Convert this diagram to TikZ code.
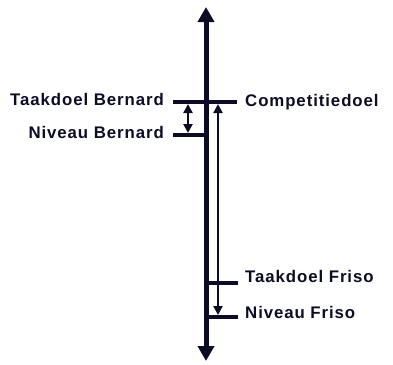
\documentclass[tikz,border=0pt]{standalone}
\usepackage{fontspec}
\setmainfont{Liberation Sans}
\newfontfamily\lblfont{Liberation Sans}[LetterSpace=5.5]
\usepackage{tikz}
\usetikzlibrary{arrows.meta, positioning}
\definecolor{navy}{RGB}{12,12,38}

\begin{document}
\begin{tikzpicture}[x = 1pt, y = -1pt,
    axisline/.style = {line width = 5pt, navy, {Triangle[width = 16pt, length = 15pt]}-{Triangle[width = 16pt, length = 15pt]}},
    levelline/.style = {line width = 4pt, navy},
    gap/.style = {line width = 2.5pt, navy, {Triangle[width = 9pt, length = 9pt]}-{Triangle[width = 9pt, length = 9pt]}},
    lbl/.style = {inner sep = 0pt, text = navy, text height = 12pt, text depth = 0pt, font = \lblfont\bfseries\fontsize{16.8}{20}\selectfont}]
    \useasboundingbox (0,0) rectangle (393,364);

    % axis
    \coordinate (axistop) at (206,7);
    \coordinate (axisbottom) at (206,361);
    \draw [axisline] (axisbottom) -- (axistop);

    % levels
    \coordinate (tbleft) at (173,102);
    \coordinate (tbright) at (237,102);
    \coordinate (nbleft) at (173,135);
    \coordinate (nbright) at (206,135);
    \coordinate (tfleft) at (206,283);
    \coordinate (tfright) at (238,283);
    \coordinate (nfleft) at (206,317);
    \coordinate (nfright) at (238,317);
    \draw [levelline] (tbleft) -- (tbright);
    \draw [levelline] (nbleft) -- (nbright);
    \draw [levelline] (tfleft) -- (tfright);
    \draw [levelline] (nfleft) -- (nfright);

    % gaps
    \coordinate (bgaptop) at (188,104);
    \coordinate (bgapbottom) at (188,133);
    \coordinate (fgaptop) at (218,104);
    \coordinate (fgapbottom) at (218,315);
    \draw [gap] (bgaptop) -- (bgapbottom);
    \draw [gap] (fgaptop) -- (fgapbottom);

    % labels
    \node (taakdoelbernard) [lbl, anchor = east] at (164,99.5) {Taakdoel Bernard};
    \node (niveaubernard) [lbl, anchor = east] at (164,132.5) {Niveau Bernard};
    \node (competitiedoel) [lbl, anchor = west] at (245,100.5) {Competitiedoel};
    \node (taakdoelfriso) [lbl, anchor = west] at (245,276) {Taakdoel Friso};
    \node (niveaufriso) [lbl, anchor = west] at (245,312.5) {Niveau Friso};
\end{tikzpicture}
\end{document}
